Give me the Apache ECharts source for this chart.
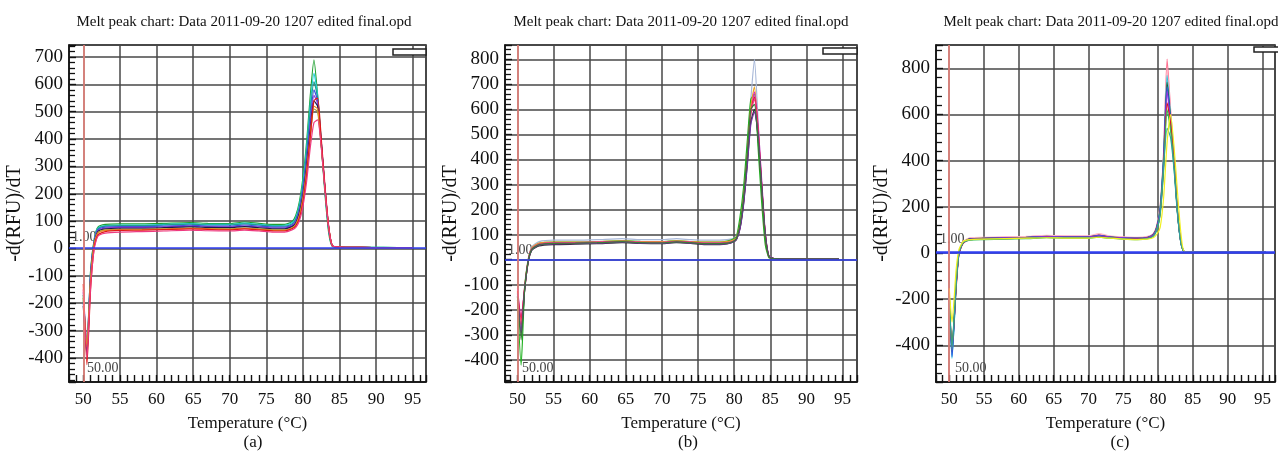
<!DOCTYPE html>
<html>
<head>
<meta charset="utf-8">
<script src="https://cdn.jsdelivr.net/npm/echarts@6/dist/echarts.min.js"></script>
<style>
  html, body { margin: 0; padding: 0; background: #fff; }
  #chart { width: 1278px; height: 451px; }
</style>
</head>
<body>
<div id="chart"></div>
<script>
// panel (a)
const tempA = [50, 50.5, 51, 51.5, 52, 53, 55, 58, 61, 64.5, 67, 70, 72, 74, 76, 77.5, 78.5, 79, 79.5, 80, 80.5, 81, 81.5, 82, 82.5, 83, 83.5, 84, 85, 88, 91, 95]
const colorsA = ['#1fa030', '#22d0dc', '#1f9f8f', '#3a50e0', '#8a3ad0', '#1a1a50', '#a0a040', '#e88a20', '#e01818', '#ee3a80']
const curvesA = [
    [-180, -360, -80, 35, 78, 88, 90, 90, 92, 95, 92, 91, 97, 92, 88, 88, 98, 120, 170, 260, 390, 560, 690, 560, 380, 200, 60, 8, 5, 4, 4, 3],
    [-170, -350, -85, 32, 75, 84, 86, 86, 88, 91, 88, 88, 93, 88, 84, 85, 94, 112, 160, 245, 370, 530, 640, 560, 390, 210, 70, 9, 5, 4, 4, 3],
    [-190, -370, -95, 28, 72, 82, 84, 84, 86, 89, 86, 86, 90, 86, 82, 82, 90, 106, 150, 232, 350, 505, 610, 550, 390, 215, 72, 9, 5, 4, 3, 3],
    [-200, -380, -100, 25, 68, 78, 80, 80, 82, 85, 82, 82, 86, 82, 78, 78, 86, 100, 140, 215, 330, 470, 580, 540, 390, 220, 75, 10, 5, 4, 3, 3],
    [-160, -340, -90, 25, 65, 75, 77, 77, 79, 82, 79, 79, 82, 79, 75, 75, 83, 96, 135, 205, 315, 450, 560, 530, 385, 220, 78, 10, 5, 4, 3, 3],
    [-210, -390, -110, 20, 62, 72, 74, 74, 76, 79, 77, 76, 80, 76, 72, 72, 80, 92, 128, 195, 300, 430, 540, 520, 380, 220, 80, 10, 5, 4, 3, 3],
    [-170, -350, -110, 18, 58, 68, 70, 70, 72, 75, 73, 72, 75, 72, 68, 68, 76, 88, 120, 185, 285, 410, 510, 500, 370, 215, 78, 10, 5, 4, 3, 3],
    [-180, -360, -115, 18, 56, 66, 68, 69, 71, 74, 72, 70, 74, 70, 66, 66, 74, 86, 118, 180, 280, 410, 520, 510, 380, 220, 80, 10, 5, 4, 3, 3],
    [-130, -425, -150, 5, 50, 62, 66, 67, 69, 72, 70, 68, 72, 68, 64, 64, 72, 82, 110, 170, 270, 410, 540, 550, 400, 230, 85, 11, 5, 4, 3, 3],
    [-150, -400, -140, 0, 45, 56, 60, 62, 64, 67, 65, 64, 67, 64, 60, 60, 68, 76, 100, 155, 245, 370, 460, 470, 370, 215, 80, 10, 5, 4, 3, 3]
]

// panel (b)
const tempB = [50, 50.5, 51, 51.5, 52, 53, 55, 58, 61, 64.5, 67, 70, 72, 74, 76, 78, 79, 79.8, 80.3, 80.8, 81.3, 81.8, 82.3, 82.8, 83.3, 83.8, 84.3, 84.8, 85.5, 88, 91, 94.5]
const colorsB = ['#a8b8d8', '#20b020', '#e8a020', '#e020c0', '#e01830', '#f04080', '#303030', '#7030a0', '#3a7a3a']
const curvesB = [
    [-140, -280, -100, 5, 52, 72, 78, 78, 80, 84, 80, 80, 84, 80, 78, 78, 80, 84, 92, 150, 260, 430, 640, 800, 560, 300, 100, 14, 5, 3, 3, 3],
    [-160, -421, -110, 0, 45, 65, 70, 70, 72, 76, 73, 72, 76, 72, 70, 70, 74, 82, 92, 170, 290, 470, 640, 660, 450, 230, 60, 8, 4, 3, 3, 3],
    [-130, -260, -105, 3, 48, 66, 70, 70, 72, 75, 72, 72, 75, 72, 70, 70, 72, 78, 88, 140, 250, 410, 610, 690, 520, 290, 95, 12, 5, 3, 3, 3],
    [-115, -230, -110, 0, 45, 62, 67, 68, 70, 73, 70, 69, 73, 70, 66, 66, 68, 74, 84, 130, 230, 390, 580, 670, 540, 320, 110, 15, 5, 3, 3, 3],
    [-125, -240, -115, -5, 42, 60, 65, 66, 68, 72, 68, 67, 72, 68, 64, 64, 66, 72, 82, 130, 235, 400, 590, 650, 520, 300, 100, 13, 5, 3, 3, 3],
    [-150, -260, -112, -2, 44, 62, 67, 67, 69, 72, 69, 68, 72, 69, 65, 65, 67, 73, 83, 135, 240, 400, 590, 640, 510, 295, 100, 13, 5, 3, 3, 3],
    [-145, -300, -120, -8, 38, 55, 60, 62, 64, 68, 65, 64, 68, 65, 60, 60, 63, 70, 80, 125, 225, 380, 550, 600, 490, 290, 100, 13, 5, 3, 3, 3],
    [-135, -290, -118, -5, 40, 58, 63, 64, 66, 70, 66, 65, 70, 66, 62, 62, 64, 70, 80, 122, 220, 370, 540, 590, 500, 300, 105, 14, 5, 3, 3, 3],
    [-150, -320, -115, -3, 42, 60, 65, 66, 68, 72, 68, 67, 71, 68, 64, 64, 66, 72, 85, 140, 250, 420, 600, 620, 480, 280, 90, 12, 5, 3, 3, 3]
]

// panel (c)
const tempC = [50, 50.4, 51, 51.4, 52, 53, 55, 58, 61, 64, 67, 70, 71.5, 73, 75, 77, 78.5, 79.3, 79.8, 80.3, 80.8, 81.3, 81.8, 82.3, 82.8, 83.3, 83.8, 86, 90, 95.5]
const colorsC = ['#ff7090', '#ffb8c8', '#20c8e0', '#205a30', '#3050e0', '#9030e0', '#e01020', '#30c050', '#30a0a0', '#f0f020']
const curvesC = [
    [-180, -420, -130, 0, 48, 64, 66, 68, 70, 74, 72, 72, 80, 72, 68, 66, 70, 82, 115, 200, 440, 840, 620, 410, 180, 45, 5, 4, 3, 3],
    [-190, -410, -125, 2, 50, 66, 68, 70, 72, 76, 74, 74, 84, 74, 70, 68, 72, 84, 118, 205, 430, 800, 600, 400, 175, 42, 5, 4, 3, 3],
    [-200, -457, -140, -2, 45, 60, 62, 64, 66, 70, 68, 68, 74, 68, 64, 62, 66, 78, 110, 195, 420, 770, 590, 400, 180, 45, 5, 4, 3, 3],
    [-185, -430, -135, 0, 46, 62, 64, 66, 68, 72, 70, 70, 76, 70, 66, 64, 68, 80, 112, 190, 410, 740, 580, 395, 175, 42, 5, 4, 3, 3],
    [-195, -450, -140, -3, 44, 60, 62, 64, 67, 71, 69, 69, 76, 69, 65, 63, 67, 78, 108, 185, 400, 720, 570, 390, 175, 42, 5, 4, 3, 3],
    [-180, -420, -130, 0, 46, 60, 63, 65, 67, 71, 69, 69, 74, 69, 65, 63, 67, 78, 106, 180, 390, 700, 560, 385, 172, 42, 5, 4, 3, 3],
    [-204, -406, -150, -5, 42, 58, 60, 62, 64, 68, 66, 66, 70, 66, 62, 60, 64, 74, 100, 170, 370, 650, 560, 390, 178, 45, 5, 4, 3, 3],
    [-175, -400, -128, 2, 46, 56, 58, 60, 62, 66, 64, 64, 68, 64, 60, 58, 62, 72, 98, 165, 360, 620, 530, 370, 170, 42, 5, 4, 3, 3],
    [-185, -420, -135, 0, 45, 58, 60, 62, 64, 67, 65, 65, 70, 65, 61, 59, 63, 73, 100, 170, 380, 540, 500, 360, 165, 40, 5, 4, 3, 3],
    [-153, -300, -70, 15, 50, 58, 60, 62, 64, 66, 64, 64, 68, 64, 60, 58, 60, 66, 80, 110, 240, 480, 600, 460, 260, 80, 6, 4, 3, 3]
]

const titleText = 'Melt peak chart: Data 2011-09-20 1207 edited final.opd'
const serif = '"Liberation Serif", "Times New Roman", serif'

const chart = echarts.init(document.getElementById('chart'))

const panels = [
    { temps: tempA, curves: curvesA, colors: colorsA, grid: { left: 69, top: 45, width: 357, height: 337 }, x: [48.05, 96.8], y: [-488, 744], step: 100, zeroWidth: 1.6 },
    { temps: tempB, curves: curvesB, colors: colorsB, grid: { left: 505, top: 45, width: 352, height: 337 }, x: [48.27, 97.0], y: [-488, 857], step: 100, zeroWidth: 1.6 },
    { temps: tempC, curves: curvesC, colors: colorsC, grid: { left: 936, top: 45, width: 351, height: 337 }, x: [48.1, 96.8], y: [-559, 901], step: 200, zeroWidth: 2.6 }
]

const grids = []
const xAxes = []
const yAxes = []
const series = []

panels.forEach((p, gi) => {
    grids.push({ ...p.grid, show: true, borderColor: '#111', borderWidth: 1.5 })

    xAxes.push({
        type: 'value',
        gridIndex: gi,
        min: p.x[0],
        max: p.x[1],
        minInterval: 5,
        maxInterval: 5,
        axisLine: { show: true, onZero: false, lineStyle: { color: '#111', width: 1.5 } },
        axisTick: { show: true, inside: true, length: 7, lineStyle: { color: '#111', width: 1.4 } },
        minorTick: { show: true, splitNumber: 5, length: 7, lineStyle: { color: '#111', width: 1.4 } },
        splitLine: { show: true, lineStyle: { color: '#474747', width: 1.5 } },
        axisLabel: {
            color: '#111', fontFamily: serif, fontSize: 17, margin: 9,
            formatter: v => (Math.abs(v % 5) < 1e-6 ? String(v) : '')
        },
        name: 'Temperature (\u00B0C)',
        nameLocation: 'middle',
        nameGap: 33,
        nameTextStyle: { color: '#111', fontFamily: serif, fontSize: 17 }
    })

    yAxes.push({
        type: 'value',
        gridIndex: gi,
        min: p.y[0],
        max: p.y[1],
        minInterval: p.step,
        maxInterval: p.step,
        axisLine: { show: true, onZero: false, lineStyle: { color: '#111', width: 1.5 } },
        axisTick: { show: true, inside: true, length: 7, lineStyle: { color: '#111', width: 1.4 } },
        minorTick: { show: true, splitNumber: 5, length: 6, lineStyle: { color: '#111', width: 1.3 } },
        splitLine: { show: true, lineStyle: { color: '#474747', width: 1.5 } },
        axisLabel: {
            color: '#111', fontFamily: serif, fontSize: 19, margin: 6,
            formatter: v => (v % p.step === 0 ? String(v) : '')
        },
        name: '-d(RFU)/dT',
        nameLocation: 'middle',
        nameRotate: 90,
        nameGap: 36,
        nameTextStyle: { color: '#111', fontFamily: serif, fontSize: 20 }
    })

    p.curves.forEach((ys, si) => {
        const s = {
            type: 'line',
            xAxisIndex: gi,
            yAxisIndex: gi,
            data: p.temps.map((t, i) => [t, ys[i]]),
            symbol: 'none',
            smooth: 0.2,
            lineStyle: { width: 1.2, color: p.colors[si] },
            itemStyle: { color: p.colors[si] },
            z: 3
        }
        if (si === 0) {
            s.markLine = {
                silent: true,
                symbol: ['none', 'none'],
                label: { show: false },
                data: [
                    { yAxis: 1, lineStyle: { color: '#2f3ef0', width: p.zeroWidth, type: 'solid' } },
                    { xAxis: 50, lineStyle: { color: '#f4877f', width: 1.5, type: 'solid' } }
                ]
            }
        }
        series.push(s)
    })
})

const textFont = size => size + 'px ' + serif

const graphic = [
    { type: 'text', x: 244, y: 22, style: { text: titleText, font: textFont(15), fill: '#111', textAlign: 'center', textVerticalAlign: 'middle' } },
    { type: 'text', x: 681, y: 22, style: { text: titleText, font: textFont(15), fill: '#111', textAlign: 'center', textVerticalAlign: 'middle' } },
    { type: 'text', x: 1111, y: 22, style: { text: titleText, font: textFont(15), fill: '#111', textAlign: 'center', textVerticalAlign: 'middle' } },
    { type: 'text', x: 253, y: 443, style: { text: '(a)', font: textFont(17), fill: '#111', textAlign: 'center', textVerticalAlign: 'middle' } },
    { type: 'text', x: 688, y: 443, style: { text: '(b)', font: textFont(17), fill: '#111', textAlign: 'center', textVerticalAlign: 'middle' } },
    { type: 'text', x: 1120, y: 443, style: { text: '(c)', font: textFont(17), fill: '#111', textAlign: 'center', textVerticalAlign: 'middle' } },
    { type: 'text', x: 72, y: 237, style: { text: '1.00', font: textFont(14), fill: '#444', textAlign: 'left', textVerticalAlign: 'middle' } },
    { type: 'text', x: 508, y: 250, style: { text: '1.00', font: textFont(14), fill: '#444', textAlign: 'left', textVerticalAlign: 'middle' } },
    { type: 'text', x: 940, y: 239, style: { text: '1.00', font: textFont(14), fill: '#444', textAlign: 'left', textVerticalAlign: 'middle' } },
    { type: 'text', x: 87, y: 368, style: { text: '50.00', font: textFont(14), fill: '#444', textAlign: 'left', textVerticalAlign: 'middle' } },
    { type: 'text', x: 522, y: 368, style: { text: '50.00', font: textFont(14), fill: '#444', textAlign: 'left', textVerticalAlign: 'middle' } },
    { type: 'text', x: 955, y: 368, style: { text: '50.00', font: textFont(14), fill: '#444', textAlign: 'left', textVerticalAlign: 'middle' } },
    { type: 'rect', shape: { x: 393, y: 49, width: 33, height: 6 }, style: { fill: '#fff', stroke: '#222', lineWidth: 1.5 }, z: 10 },
    { type: 'rect', shape: { x: 823, y: 48, width: 34, height: 6 }, style: { fill: '#fff', stroke: '#222', lineWidth: 1.5 }, z: 10 },
    { type: 'rect', shape: { x: 1254, y: 47, width: 40, height: 5 }, style: { fill: '#fff', stroke: '#222', lineWidth: 1.5 }, z: 10 }
]

chart.setOption({
    animation: false,
    backgroundColor: '#fff',
    grid: grids,
    xAxis: xAxes,
    yAxis: yAxes,
    series: series,
    graphic: graphic
})
</script>
</body>
</html>
